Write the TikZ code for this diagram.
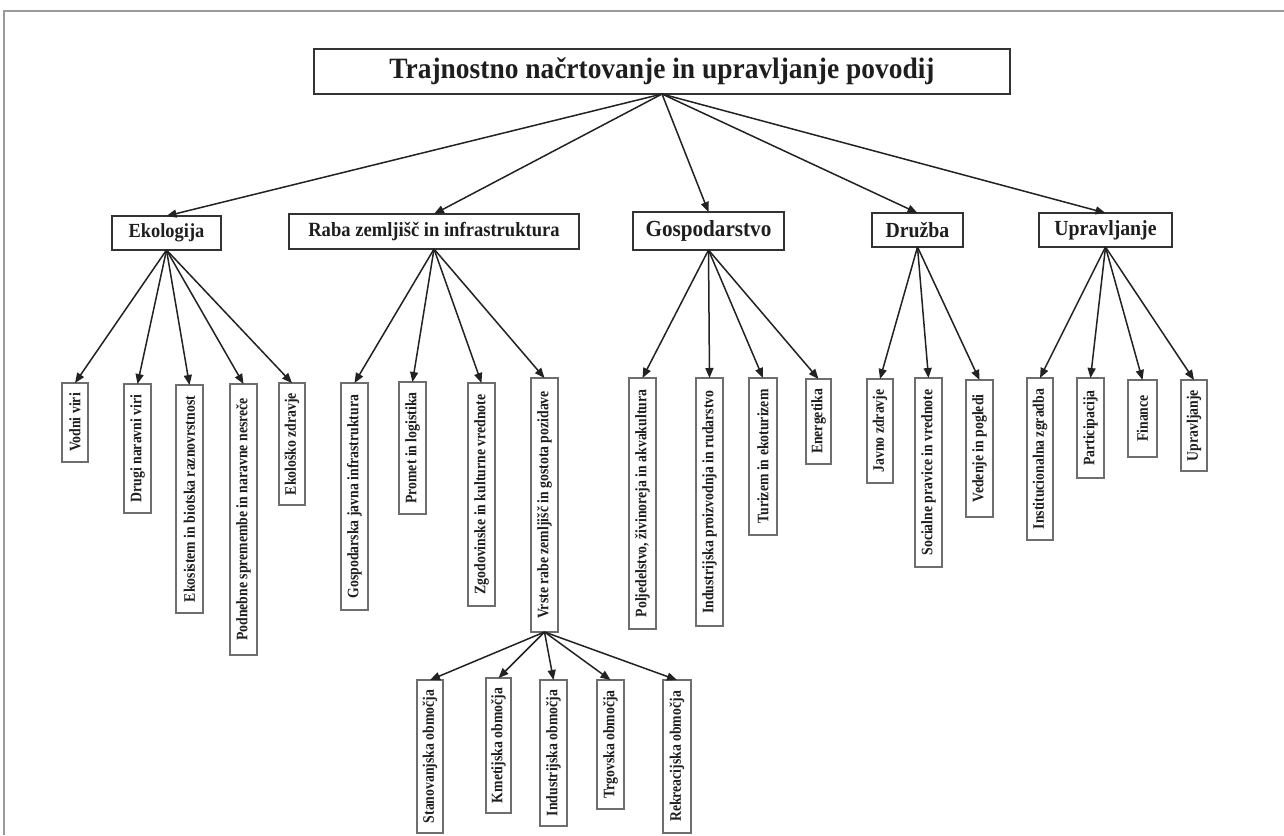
\documentclass[tikz,border=0pt]{standalone}
\usepackage{fontspec}
\setmainfont{Liberation Serif}
\usetikzlibrary{arrows.meta}
\definecolor{txt}{HTML}{1E1E1E}
\definecolor{boxc}{HTML}{333333}
\definecolor{leafc}{HTML}{6E6E6E}
\definecolor{arrc}{HTML}{222222}
\definecolor{framec}{HTML}{9A9A9A}
\newcommand\lfttext[1]{\rotatebox{90}{\scalebox{0.86}[1]{#1}}}
\newcommand\cattext[1]{\scalebox{0.92}[1]{#1}}
\begin{document}
\begin{tikzpicture}[x=1pt,y=-1pt,
  box/.style={draw=boxc, line width=1.8pt, inner sep=0pt, outer sep=0pt, fill=white, text=txt},
  leaf/.style={draw=leafc, line width=1.3pt, inner sep=0pt, outer sep=0pt, fill=white,
    minimum width=27pt, text=txt, font=\fontsize{16}{18}\selectfont\bfseries},
  arr/.style={draw=arrc, line width=1.5pt, -{Triangle[length=10pt,width=8pt]}},
]
\useasboundingbox[fill=white] (0,0) rectangle (1284,835);
% frame
\draw[framec, line width=1.5pt] (1284,11) -- (4,11) -- (4,835);

% title
\node[box, line width=2pt, minimum width=696pt, minimum height=45pt,
  font=\fontsize{29.5}{32}\selectfont\bfseries] (T) at (662,71.5)
  {\scalebox{0.93}[1]{Trajnostno načrtovanje in upravljanje povodij}};

% categories
\node[box, minimum width=109pt, minimum height=34pt, font=\fontsize{20}{22}\selectfont\bfseries] (E) at (166.5,233) {\cattext{Ekologija}};
\node[box, minimum width=290pt, minimum height=35pt, font=\fontsize{20.2}{22}\selectfont\bfseries] (R) at (434,231.5) {\cattext{Raba zemljišč in infrastruktura}};
\node[box, minimum width=151pt, minimum height=38pt, font=\fontsize{23}{25}\selectfont\bfseries] (G) at (708.5,231) {\cattext{Gospodarstvo}};
\node[box, minimum width=91pt, minimum height=34pt, font=\fontsize{21.5}{24}\selectfont\bfseries] (D) at (917.5,230) {\cattext{Družba}};
\node[box, minimum width=133pt, minimum height=34pt, font=\fontsize{21.5}{24}\selectfont\bfseries] (U) at (1105.5,230) {\cattext{Upravljanje}};

\foreach \c in {E,R,G,D,U} \draw[arr] (T.south) -- (\c.north);

% Ekologija leaves
\node[leaf, minimum width=26pt, minimum height=79pt] (e1) at (75,422.5) {\lfttext{Vodni viri}};
\node[leaf, minimum height=129pt] (e2) at (137.5,448.5) {\lfttext{Drugi naravni viri}};
\node[leaf, minimum height=228pt] (e3) at (189.5,499) {\lfttext{Ekosistem in biotska raznovrstnost}};
\node[leaf, minimum height=271pt] (e4) at (243.5,519.5) {\lfttext{Podnebne spremembe in naravne nesreče}};
\node[leaf, minimum width=26pt, minimum height=122pt] (e5) at (292,444) {\lfttext{Ekološko zdravje}};
\foreach \n in {e1,e2,e3,e4,e5} \draw[arr] (E.south) -- (\n.north);

% Raba leaves
\node[leaf, minimum height=227pt] (r1) at (354.5,496.5) {\lfttext{Gospodarska javna infrastruktura}};
\node[leaf, minimum height=132pt] (r2) at (412.5,448) {\lfttext{Promet in logistika}};
\node[leaf, minimum height=223pt] (r3) at (481.5,494.5) {\lfttext{Zgodovinske in kulturne vrednote}};
\node[leaf, minimum height=254pt] (r4) at (544.5,505) {\lfttext{Vrste rabe zemljišč in gostota pozidave}};
\foreach \n in {r1,r2,r3,r4} \draw[arr] (R.south) -- (\n.north);

% Vrste sub-leaves
\node[leaf, minimum width=26pt, minimum height=153pt] (v1) at (430,756.5) {\lfttext{Stanovanjska območja}};
\node[leaf, minimum width=25pt, minimum height=135pt] (v2) at (498.5,745.5) {\lfttext{Kmetijska območja}};
\node[leaf, minimum height=146pt] (v3) at (553.5,753) {\lfttext{Industrijska območja}};
\node[leaf, minimum height=129pt] (v4) at (610.5,744.5) {\lfttext{Trgovska območja}};
\node[leaf, minimum width=28pt, minimum height=153pt] (v5) at (677,756.5) {\lfttext{Rekreacijska območja}};
\foreach \n in {v1,v2,v3,v4,v5} \draw[arr] (r4.south) -- (\n.north);

% Gospodarstvo leaves
\node[leaf, minimum height=251pt] (g1) at (642.5,503.5) {\lfttext{Poljedelstvo, živinoreja in akvakultura}};
\node[leaf, minimum height=248pt] (g2) at (709.5,502) {\lfttext{Industrijska proizvodnja in rudarstvo}};
\node[leaf, minimum width=28pt, minimum height=157pt] (g3) at (763,456.5) {\lfttext{Turizem in ekoturizem}};
\node[leaf, minimum width=25pt, minimum height=85pt] (g4) at (818.5,421.5) {\lfttext{Energetika}};
\foreach \n in {g1,g2,g3,g4} \draw[arr] (G.south) -- (\n.north);

% Druzba leaves
\node[leaf, minimum width=26pt, minimum height=104pt] (d1) at (880,431) {\lfttext{Javno zdravje}};
\node[leaf, minimum height=189pt] (d2) at (928.5,472.5) {\lfttext{Socialne pravice in vrednote}};
\node[leaf, minimum height=137pt] (d3) at (979.5,448.5) {\lfttext{Vedenje in pogledi}};
\foreach \n in {d1,d2,d3} \draw[arr] (D.south) -- (\n.north);

% Upravljanje leaves
\node[leaf, minimum width=26pt, minimum height=162pt] (u1) at (1040,459) {\lfttext{Institucionalna zgradba}};
\node[leaf, minimum height=100pt] (u2) at (1090.5,428) {\lfttext{Participacija}};
\node[leaf, minimum width=29pt, minimum height=77pt] (u3) at (1142.5,418.5) {\lfttext{Finance}};
\node[leaf, minimum width=26pt, minimum height=91pt] (u4) at (1194,425.5) {\lfttext{Upravljanje}};
\foreach \n in {u1,u2,u3,u4} \draw[arr] (U.south) -- (\n.north);
\end{tikzpicture}
\end{document}
